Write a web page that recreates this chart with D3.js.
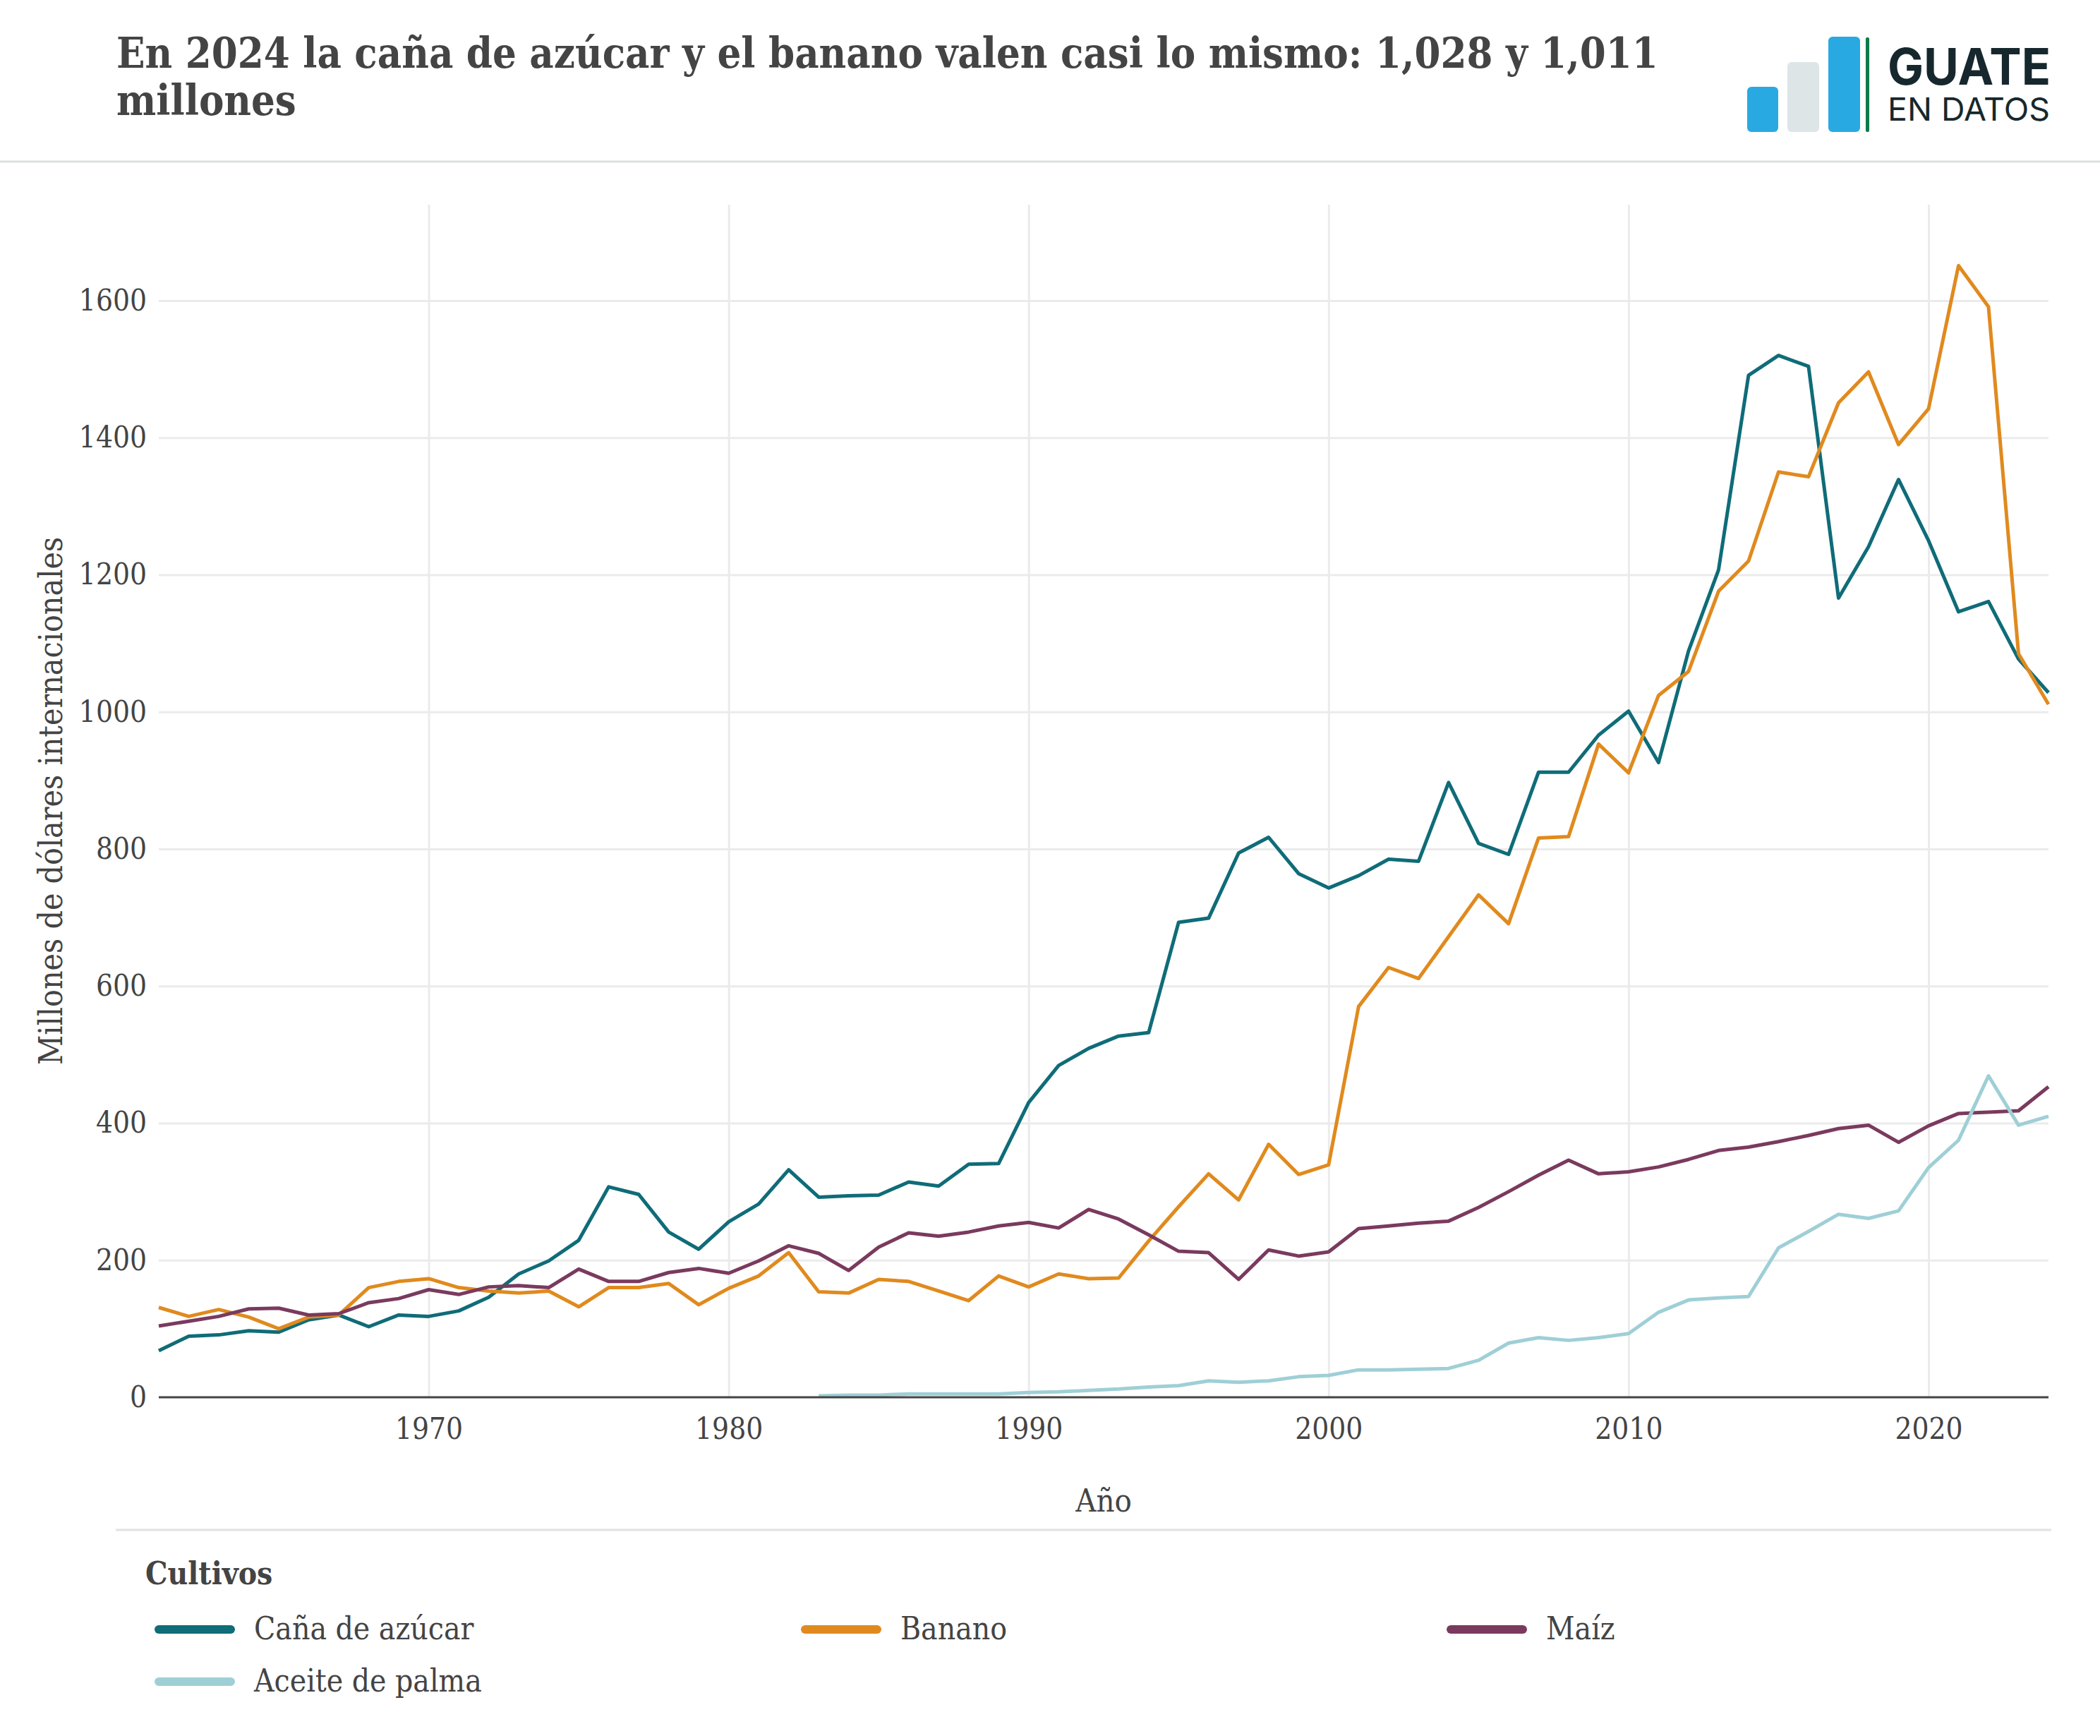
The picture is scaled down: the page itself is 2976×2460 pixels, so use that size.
<!DOCTYPE html>
<html>
<head>
<meta charset="utf-8">
<script src="https://cdn.jsdelivr.net/npm/d3@7"></script>
<style>
  body { margin: 0; background: #fff; }
  svg text { font-family: "DejaVu Serif Condensed", "DejaVu Serif", serif; font-stretch: condensed; fill: #444; }
</style>
</head>
<body>
<svg id="chart" width="2976" height="2460"></svg>
<script>
// Valor de producción, millones de dólares internacionales
const years = [1961,1962,1963,1964,1965,1966,1967,1968,1969,1970,
  1971,1972,1973,1974,1975,1976,1977,1978,1979,1980,
  1981,1982,1983,1984,1985,1986,1987,1988,1989,1990,
  1991,1992,1993,1994,1995,1996,1997,1998,1999,2000,
  2001,2002,2003,2004,2005,2006,2007,2008,2009,2010,
  2011,2012,2013,2014,2015,2016,2017,2018,2019,2020,
  2021,2022,2023,2024];

const cana = [68,89,91,97,95,113,120,103,120,118,
  126,146,180,199,229,307,296,241,216,256,
  282,332,292,294,295,314,308,340,341,430,
  484,509,527,532,693,699,794,817,764,743,
  761,785,782,897,808,792,912,912,966,1001,
  926,1089,1207,1491,1520,1504,1166,1241,1339,1250,
  1146,1161,1077,1028];

const banano = [131,118,128,117,100,117,120,160,169,173,
  160,155,152,155,132,160,160,166,135,159,
  177,211,154,152,172,169,155,141,177,161,
  180,173,174,228,278,326,288,369,325,339,
  570,627,611,672,733,691,816,818,953,911,
  1024,1059,1176,1220,1350,1343,1451,1496,1390,1442,
  1651,1591,1085,1011];

const maiz = [104,111,118,129,130,120,122,138,144,157,
  150,161,163,160,187,169,169,182,188,181,
  199,221,210,185,219,240,235,241,250,255,
  247,274,260,237,213,211,172,215,206,212,
  246,250,254,257,277,300,324,346,326,329,
  336,347,360,365,373,382,392,397,372,396,
  414,416,418,453];

// sin datos antes de 1983
const palma = [null,null,null,null,null,null,null,null,null,null,
  null,null,null,null,null,null,null,null,null,null,
  null,null,2,3,3,5,5,5,5,7,
  8,10,12,15,17,24,22,24,30,32,
  40,40,41,42,54,79,87,83,87,93,
  124,142,145,147,218,242,267,261,272,335,
  375,469,397,410];

const seriesNames = ['Caña de azúcar', 'Banano', 'Maíz', 'Aceite de palma'];
const seriesColors = ['#0f6c78', '#e08a1e', '#7a3a5e', '#9fcfd6'];
const xTicks = [1970, 1980, 1990, 2000, 2010, 2020];
const yTicks = [0, 200, 400, 600, 800, 1000, 1200, 1400, 1600];

(function() {
    const svg = d3.select('#chart');

    const plot = { left: 225, right: 2903, top: 290, bottom: 1980 };

    const x = d3.scaleLinear().domain([1961, 2024]).range([plot.left, plot.right]);
    const y = d3.scaleLinear().domain([0, 1740]).range([plot.bottom, plot.top]);

    // Header
    const title = svg.append('g').attr('class', 'title');
    const t1 = title.append('text')
        .attr('x', 165).attr('y', 96)
        .style('font-weight', 'bold')
        .text('En 2024 la caña de azúcar y el banano valen casi lo mismo: 1,028 y 1,011');
    const t2 = title.append('text')
        .attr('x', 165).attr('y', 163)
        .style('font-weight', 'bold')
        .text('millones');

    // fit the first title line to the reference width
    let fs = 62;
    t1.style('font-size', fs + 'px');
    const w = t1.node().getComputedTextLength();
    fs = Math.min(66, fs * 2185 / w);
    t1.style('font-size', fs + 'px');
    t2.style('font-size', fs + 'px');

    svg.append('line')
        .attr('x1', 0).attr('x2', 2976)
        .attr('y1', 229).attr('y2', 229)
        .attr('stroke', '#dde0e0').attr('stroke-width', 3);

    // Logo
    const logo = svg.append('g').attr('class', 'logo');
    logo.append('rect').attr('x', 2476).attr('y', 123).attr('width', 44).attr('height', 64).attr('rx', 6).attr('fill', '#29a9e1');
    logo.append('rect').attr('x', 2533).attr('y', 88).attr('width', 45).attr('height', 99).attr('rx', 6).attr('fill', '#dde5e7');
    logo.append('rect').attr('x', 2591).attr('y', 52).attr('width', 45).attr('height', 135).attr('rx', 6).attr('fill', '#29a9e1');
    logo.append('rect').attr('x', 2644).attr('y', 53).attr('width', 5).attr('height', 134).attr('rx', 2).attr('fill', '#0e7a4a');
    logo.append('text')
        .attr('x', 2675).attr('y', 120)
        .attr('textLength', 231).attr('lengthAdjust', 'spacingAndGlyphs')
        .style('font-family', 'Inter, "Open Sans", sans-serif')
        .style('font-stretch', 'normal')
        .style('font-weight', 'bold').style('font-size', '72px')
        .style('fill', '#16282d')
        .text('GUATE');
    logo.append('text')
        .attr('x', 2675).attr('y', 171)
        .attr('textLength', 230).attr('lengthAdjust', 'spacingAndGlyphs')
        .style('font-family', 'Inter, "Open Sans", sans-serif')
        .style('font-stretch', 'normal')
        .style('font-size', '45px')
        .style('fill', '#16282d')
        .text('EN DATOS');

    // Grid + axes
    const yAxis = svg.append('g')
        .attr('class', 'y-axis')
        .attr('transform', `translate(${plot.left},0)`)
        .call(d3.axisLeft(y)
            .tickValues(yTicks)
            .tickSize(-(plot.right - plot.left))
            .tickPadding(17)
            .tickFormat(d3.format('d')));

    const xAxis = svg.append('g')
        .attr('class', 'x-axis')
        .attr('transform', `translate(0,${plot.bottom})`)
        .call(d3.axisBottom(x)
            .tickValues(xTicks)
            .tickSize(-(plot.bottom - plot.top))
            .tickPadding(29)
            .tickFormat(d3.format('d')));

    [yAxis, xAxis].forEach(ax => {
        ax.select('.domain').remove();
        ax.selectAll('.tick line').attr('stroke', '#ebebeb').attr('stroke-width', 3);
        ax.selectAll('.tick text').style('font-size', '42px').style('fill', '#444');
    });
    yAxis.selectAll('.tick').filter(d => d === 0).select('line').remove();

    // Lines
    const allSeries = [cana, banano, maiz, palma];
    const line = d3.line()
        .defined(d => d.v !== null)
        .x(d => x(d.year))
        .y(d => y(d.v));

    const lines = svg.append('g').attr('class', 'lines');
    allSeries.forEach((vals, i) => {
        const pts = years.map((yr, j) => ({ year: yr, v: vals[j] }));
        lines.append('path')
            .datum(pts)
            .attr('fill', 'none')
            .attr('stroke', seriesColors[i])
            .attr('stroke-width', 5)
            .attr('stroke-linejoin', 'round')
            .attr('d', line);
    });

    // zero line
    svg.append('line')
        .attr('x1', plot.left).attr('x2', plot.right)
        .attr('y1', y(0)).attr('y2', y(0))
        .attr('stroke', '#444').attr('stroke-width', 3);

    // Axis titles
    svg.append('text')
        .attr('transform', `translate(88,${(plot.top + plot.bottom) / 2}) rotate(-90)`)
        .attr('text-anchor', 'middle')
        .style('font-size', '46px')
        .text('Millones de dólares internacionales');

    svg.append('text')
        .attr('x', (plot.left + plot.right) / 2).attr('y', 2142)
        .attr('text-anchor', 'middle')
        .style('font-size', '45px')
        .text('Año');

    // Legend
    svg.append('line')
        .attr('x1', 164).attr('x2', 2907)
        .attr('y1', 2168).attr('y2', 2168)
        .attr('stroke', '#e2e2e2').attr('stroke-width', 3);

    svg.append('text')
        .attr('x', 206).attr('y', 2245)
        .style('font-size', '44px').style('font-weight', 'bold')
        .text('Cultivos');

    const legendCols = [219, 1135, 2050];
    const legendRows = [2309, 2383];
    const legend = svg.append('g').attr('class', 'legend');
    seriesNames.forEach((name, i) => {
        const lx = legendCols[i % 3];
        const ly = legendRows[Math.floor(i / 3)];
        legend.append('line')
            .attr('x1', lx + 6).attr('x2', lx + 108)
            .attr('y1', ly).attr('y2', ly)
            .attr('stroke', seriesColors[i])
            .attr('stroke-width', 12)
            .attr('stroke-linecap', 'round');
        legend.append('text')
            .attr('x', lx + 141).attr('y', ly + 14)
            .style('font-size', '44px')
            .text(name);
    });
})();
</script>
</body>
</html>
